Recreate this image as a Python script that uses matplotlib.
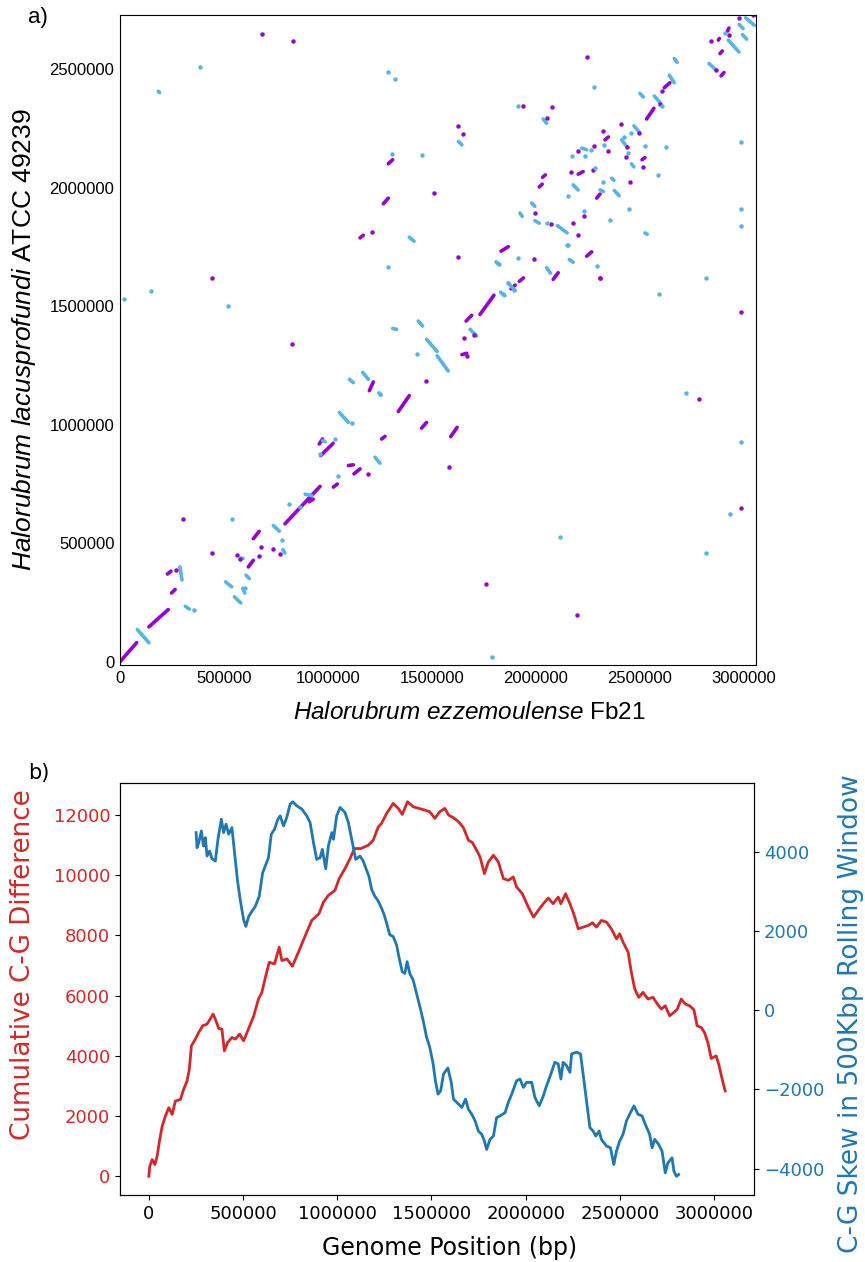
import matplotlib
matplotlib.use("Agg")
import matplotlib.pyplot as plt
import numpy as np

plt.rcParams["mathtext.fontset"] = "custom"
plt.rcParams["mathtext.it"] = "Liberation Sans:italic"
plt.rcParams["mathtext.rm"] = "Liberation Sans"

# ---- panel a: dot plot (kb coordinates) ----
# forward matches: x1, y1, x2, y2
fwd_x1 = [0, 139, 228, 248, 617, 641, 793, 910, 958, 965, 1026, 1098, 1125, 1199, 1258, 1338, 1450,
          1290, 1266, 1154, 1590, 1644, 1664, 1731, 1832, 1880, 1920, 2083, 2244, 2016, 2032, 2203,
          2292, 2332, 2510, 2532, 2617, 2890, 2885, 2921, 3045, 2877]
fwd_y1 = [0, 147, 370, 290, 400, 519, 582, 675, 919, 870, 737, 828, 793, 1144, 940, 1056, 986,
          2102, 1933, 1789, 950, 1296, 1438, 1466, 1733, 1574, 1606, 1614, 1712, 2004, 2045, 2058,
          1957, 2203, 2119, 2291, 2423, 2473, 2567, 2662, 2726, 2624]
fwd_x2 = [80, 232, 245, 265, 641, 669, 962, 929, 974, 1025, 1045, 1122, 1154, 1218, 1274, 1391, 1474,
          1311, 1290, 1170, 1621, 1667, 1691, 1798, 1867, 1900, 1940, 2107, 2268, 2030, 2045, 2227,
          2308, 2348, 2524, 2567, 2644, 2904, 2896, 2928, 3061, 2882]
fwd_y2 = [80, 220, 382, 305, 428, 550, 740, 686, 940, 922, 750, 831, 814, 1181, 951, 1123, 1010,
          2119, 1957, 1800, 989, 1302, 1462, 1547, 1752, 1590, 1620, 1642, 1730, 2016, 2055, 2069,
          1974, 2215, 2128, 2336, 2444, 2487, 2578, 2675, 2733, 2631]
fwd_dot_x = [269, 301, 442, 561, 577, 668, 678, 734, 769, 1194, 1471, 828, 684, 832, 1210, 442, 1510,
             1625, 1651, 1623, 1938, 2078, 2051, 1704, 1654, 1992, 2308, 1995, 2070, 2179, 2201, 2168,
             2231, 2203, 2281, 2276, 2324, 2348, 2247, 2596, 2607, 2410, 2495, 2439, 2433, 2513, 2454,
             2987, 2309, 2868, 2840, 2929, 2974, 1582, 2784, 2987, 1760, 2196, 1667]
fwd_dot_y = [386, 603, 459, 450, 435, 446, 484, 477, 456, 793, 1186, 1340, 2650, 2619, 1814, 1619, 1978,
             2263, 2227, 1709, 2344, 2342, 2294, 1379, 1368, 1702, 1620, 1894, 1847, 1852, 1803, 2069,
             1880, 2154, 2175, 2076, 2240, 2157, 2553, 2353, 2409, 2271, 2231, 2172, 2130, 2089, 2023,
             1476, 1620, 2496, 2619, 2647, 2718, 820, 1110, 647, 328, 199, 1291]

# reverse matches: x1, y1, x2, y2
rev_x1 = [83, 288, 314, 508, 550, 590, 606, 582, 737, 783, 890, 974, 1055, 1103, 1167, 1226, 1434,
          1311, 1474, 1525, 1391, 2035, 1627, 1808, 1683, 1830, 2051, 2160, 1923, 1979, 1995, 2103,
          2179, 2308, 2220, 2500, 2569, 2641, 2665, 2412, 2471, 2459, 2364, 2377, 2524, 2832, 2925,
          2977, 2993, 3008, 1867, 1811, 1244, 184]
rev_y1 = [136, 400, 234, 337, 274, 310, 365, 438, 575, 473, 707, 933, 1052, 1192, 1221, 863, 1438,
          1407, 1361, 1291, 1792, 2291, 2196, 1688, 1403, 1560, 1663, 1698, 1894, 1936, 1862, 1841,
          2013, 1992, 2168, 2399, 2388, 2476, 2546, 2203, 2262, 2102, 2041, 1989, 1810, 2525, 2624,
          2690, 2647, 2718, 1599, 1684, 1135, 2408]
rev_x2 = [139, 298, 333, 537, 580, 600, 622, 592, 766, 793, 922, 986, 1098, 1122, 1194, 1250, 1455,
          1330, 1525, 1578, 1414, 2051, 1644, 1824, 1715, 1851, 2070, 2179, 1934, 1995, 2016, 2150,
          2203, 2324, 2244, 2516, 2596, 2665, 2679, 2436, 2497, 2471, 2375, 2400, 2535, 2868, 2976,
          2996, 3013, 3050, 1899, 1827, 1255, 190]
rev_y2 = [80, 345, 222, 316, 248, 290, 351, 436, 551, 459, 701, 929, 1010, 1178, 1192, 838, 1417,
          1403, 1309, 1227, 1775, 2273, 2182, 1674, 1375, 1545, 1640, 1686, 1880, 1922, 1851, 1810,
          1991, 1985, 2161, 2384, 2361, 2444, 2530, 2175, 2235, 2089, 2032, 1967, 1804, 2497, 2574,
          2673, 2628, 2687, 1567, 1677, 1125, 2402]
rev_dot_x = [356, 537, 603, 777, 814, 865, 962, 1034, 1050, 1114, 1250, 1426, 385, 1287, 1322, 1309,
             1450, 1287, 149, 19, 521, 1914, 1912, 1866, 1896, 2155, 2292, 2051, 2155, 2232, 2320, 2175,
             2236, 2265, 2284, 2329, 2279, 2604, 2423, 2459, 2442, 2522, 2623, 2587, 2447, 2356, 2987,
             2987, 2987, 2817, 2593, 2909, 2721, 2987, 2931, 2116, 2817, 1789, 2150, 1843]
rev_dot_y = [220, 602, 313, 512, 664, 652, 877, 940, 782, 1006, 1129, 1298, 2509, 2490, 2458, 2144,
             2141, 1667, 1566, 1533, 1500, 2346, 1706, 1600, 1570, 1761, 1672, 1851, 1968, 1904, 2027, 2136,
             2133, 2162, 2083, 2182, 2428, 2347, 2217, 2233, 2147, 2179, 2173, 2054, 1912, 1866, 2195,
             1912, 1839, 1620, 1552, 2654, 1136, 928, 623, 525, 459, 21, 1757, 1553]

# ---- panel b: GC skew ----
cum_pos = [0, 5, 18, 32, 44, 58, 71, 88, 106, 124, 141, 168, 185, 203, 215, 226, 247, 265, 286, 309,
           341, 353, 371, 388, 401, 418, 441, 459, 482, 503, 530, 556, 582, 600, 621, 639, 667, 692,
           706, 733, 762, 794, 838, 865, 903, 927, 953, 988, 1010, 1041, 1068, 1091, 1126, 1165, 1191,
           1218, 1235, 1262, 1297, 1324, 1345, 1373, 1403, 1433, 1465, 1491, 1518, 1544, 1571, 1591,
           1617, 1644, 1670, 1696, 1717, 1740, 1758, 1781, 1802, 1829, 1855, 1882, 1908, 1934, 1952,
           1982, 2014, 2042, 2067, 2094, 2120, 2146, 2173, 2187, 2212, 2235, 2258, 2279, 2305, 2332,
           2355, 2376, 2402, 2429, 2455, 2482, 2499, 2517, 2544, 2561, 2579, 2600, 2623, 2649, 2676,
           2699, 2720, 2741, 2764, 2787, 2805, 2826, 2847, 2870, 2893, 2910, 2932, 2949, 2967, 2985,
           3011, 3025, 3041, 3059]
cum_diff = [0, 333, 555, 389, 667, 1222, 1667, 2000, 2278, 2055, 2500, 2555, 2889, 3167, 3555, 4333,
            4555, 4778, 5000, 5055, 5389, 5222, 4911, 4889, 4166, 4444, 4611, 4555, 4722, 4500, 4911,
            5311, 5889, 6111, 6666, 7111, 7055, 7611, 7166, 7222, 6978, 7444, 8111, 8500, 8722, 9111,
            9333, 9500, 9889, 10222, 10555, 10889, 10889, 11000, 11166, 11611, 11722, 12055, 12388,
            12222, 12022, 12444, 12277, 12222, 12166, 12111, 11889, 12111, 12222, 12000, 11911, 11778,
            11578, 11166, 11089, 10833, 10611, 10055, 10444, 10666, 10444, 9889, 9833, 9944, 9611, 9389,
            8944, 8611, 8833, 9055, 9244, 9055, 9278, 9055, 9389, 9055, 8666, 8222, 8278, 8333, 8422,
            8278, 8500, 8444, 8222, 7889, 8055, 7778, 7444, 6778, 6222, 5944, 6111, 5889, 5944, 5722,
            5555, 5666, 5333, 5444, 5555, 5889, 5722, 5666, 5533, 5000, 4944, 4778, 4444, 3911, 4000,
            3722, 3278, 2833]

skew_pos = [251, 256, 265, 279, 290, 300, 309, 323, 335, 353, 367, 385, 397, 410, 424, 441, 459, 470,
            485, 503, 515, 530, 547, 565, 586, 604, 621, 635, 650, 667, 685, 697, 715, 732, 750, 764,
            785, 812, 838, 856, 874, 891, 909, 921, 939, 953, 971, 980, 997, 1015, 1041, 1059, 1080,
            1098, 1121, 1138, 1151, 1168, 1183, 1200, 1218, 1235, 1249, 1262, 1279, 1297, 1315, 1327,
            1345, 1359, 1371, 1385, 1403, 1421, 1439, 1456, 1474, 1491, 1509, 1521, 1535, 1549, 1564,
            1587, 1605, 1617, 1635, 1661, 1681, 1696, 1714, 1732, 1749, 1767, 1781, 1793, 1811, 1829,
            1846, 1864, 1891, 1908, 1926, 1952, 1970, 1988, 2005, 2032, 2049, 2072, 2094, 2111, 2134,
            2155, 2173, 2187, 2199, 2217, 2235, 2244, 2270, 2291, 2305, 2323, 2341, 2358, 2372, 2390,
            2402, 2429, 2450, 2468, 2482, 2499, 2517, 2535, 2552, 2575, 2596, 2618, 2635, 2658, 2671,
            2685, 2706, 2724, 2741, 2755, 2777, 2787, 2800, 2812]
skew_val = [4487, 4106, 4233, 4529, 4148, 4360, 3894, 4021, 3827, 3767, 4318, 4826, 4487, 4699, 4445,
            4614, 3810, 3302, 2794, 2286, 2117, 2370, 2497, 2624, 2878, 3471, 3683, 3852, 4445, 4571,
            4826, 4910, 4656, 4868, 5207, 5266, 5164, 5080, 4910, 4741, 4233, 3810, 3852, 4064, 3573,
            4148, 4487, 4318, 4910, 5122, 4995, 4741, 4233, 3810, 3894, 3767, 3598, 3386, 3048, 2878,
            2751, 2582, 2413, 2201, 1905, 1863, 1651, 1355, 974, 931, 1228, 931, 762, 423, 85, -254,
            -677, -931, -1355, -1778, -2117, -2032, -1609, -1456, -1820, -2243, -2328, -2455, -2243,
            -2497, -2624, -2794, -3048, -3132, -3302, -3513, -3259, -3175, -2709, -2667, -2582, -2328,
            -2117, -1778, -1736, -1947, -1820, -1820, -2201, -2413, -2159, -1905, -1609, -1312, -1355,
            -1736, -1312, -1397, -1566, -1101, -1058, -1101, -1609, -2286, -2963, -3048, -3175, -3048,
            -3259, -3429, -3471, -3894, -3556, -3302, -3132, -2794, -2624, -2413, -2624, -2667, -2878,
            -3132, -3471, -3259, -3386, -3556, -4106, -3852, -3725, -4064, -4191, -4148]

FWD = "#9400D3"
REV = "#56B4E9"
W, H = 865, 1262

fig = plt.figure(figsize=(W / 100, H / 100), dpi=100)

# panel a
ax = fig.add_axes([120 / W, 1 - 665 / H, 636 / W, 650 / H])
kb = 1000
for x1, y1, x2, y2 in zip(fwd_x1, fwd_y1, fwd_x2, fwd_y2):
    ax.plot([x1 * kb, x2 * kb], [y1 * kb, y2 * kb], color=FWD, lw=2.6, solid_capstyle="round")
for x1, y1, x2, y2 in zip(rev_x1, rev_y1, rev_x2, rev_y2):
    ax.plot([x1 * kb, x2 * kb], [y1 * kb, y2 * kb], color=REV, lw=2.6, solid_capstyle="round")
ax.plot(np.array(fwd_dot_x) * kb, np.array(fwd_dot_y) * kb, "o", color=FWD, ms=3.2, mew=0)
ax.plot(np.array(rev_dot_x) * kb, np.array(rev_dot_y) * kb, "o", color=REV, ms=3.2, mew=0)
ax.set_xlim(0, 3058000)
ax.set_ylim(-14000, 2730000)
ax.set_xticks(np.arange(0, 3000001, 500000))
ax.set_yticks(np.arange(0, 2500001, 500000))
ax.ticklabel_format(style="plain")
ax.tick_params(length=0, labelsize=12, pad=4)
for lab in ax.get_xticklabels() + ax.get_yticklabels():
    lab.set_family("Liberation Sans")
ax.set_xlabel(r"$\mathit{Halorubrum\ ezzemoulense}$ Fb21", fontsize=17.5,
              family="Liberation Sans")
ax.xaxis.set_label_coords(0.549, -0.057)
ax.set_ylabel(r"$\mathit{Halorubrum\ lacusprofundi}$ ATCC 49239", fontsize=19,
              family="Liberation Sans", labelpad=8)
fig.text(28 / W, 1 - 18 / H, "a)", fontsize=16, family="Liberation Sans", ha="left", va="center")

# panel b
bx = fig.add_axes([120 / W, 1 - 1195 / H, 634 / W, 412 / H])
bx.plot(np.array(cum_pos) * kb, cum_diff, color="tab:red", lw=2)
bx.set_ylabel("Cumulative C-G Difference", color="tab:red", fontsize=18.8)
bx.yaxis.set_label_coords(-0.132, 0.56)
bx.set_xlabel("Genome Position (bp)", fontsize=17)
bx.xaxis.set_label_coords(0.52, -0.1)
bx.tick_params(axis="y", labelcolor="tab:red")
bx.tick_params(labelsize=13)
bx.ticklabel_format(style="plain")
bx.set_xticks(np.arange(0, 3000001, 500000))

bx2 = bx.twinx()
bx2.plot(np.array(skew_pos) * kb, skew_val, color="tab:blue", lw=2)
bx2.set_ylabel("C-G Skew in 500Kbp Rolling Window", color="tab:blue", fontsize=19)
bx2.yaxis.set_label_coords(1.132, 0.44)
bx2.tick_params(axis="y", labelcolor="tab:blue", labelsize=13)
fig.text(28 / W, 1 - 773 / H, "b)", fontsize=15, ha="left", va="center")

fig.savefig("out.png", dpi=100)
